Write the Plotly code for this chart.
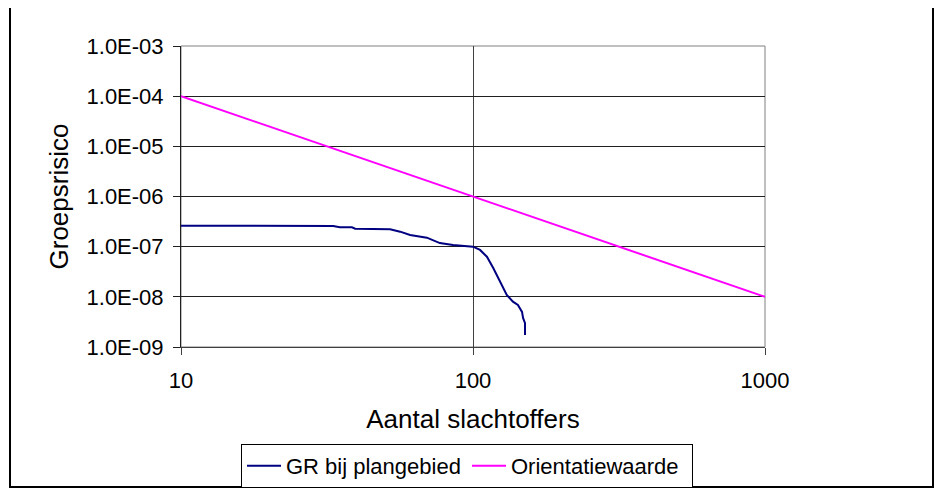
import plotly.graph_objects as go

# ---- data ----
gr_n = [10, 20, 33.2, 35.0, 38.5, 39.5, 43.4, 45.1, 52.0, 56.3, 60.9, 69.5, 77.0, 85.4,
        95.3, 100, 105.7, 111.6, 117.3, 123.5, 130.5, 137.0, 142.5, 147.2, 148.4, 150.7, 150.7]
gr_v = [2.62e-7, 2.60e-7, 2.58e-7, 2.43e-7, 2.43e-7, 2.28e-7, 2.28e-7, 2.23e-7, 2.23e-7,
        1.99e-7, 1.71e-7, 1.51e-7, 1.18e-7, 1.08e-7, 1.04e-7, 1.0e-7, 8.6e-8, 6.3e-8,
        3.76e-8, 2.0e-8, 1.09e-8, 8.0e-9, 6.9e-9, 5.0e-9, 3.8e-9, 3.0e-9, 1.74e-9]
ow_n = [10, 100, 1000]
ow_v = [1e-4, 1e-6, 1e-8]

x_ticks = [10, 100, 1000]
x_ticktext = ["10", "100", "1000"]
y_ticks = [1e-9, 1e-8, 1e-7, 1e-6, 1e-5, 1e-4, 1e-3]
y_ticktext = ["1.0E-09", "1.0E-08", "1.0E-07", "1.0E-06", "1.0E-05", "1.0E-04", "1.0E-03"]

OFF = 8  # browser body margin
W, H = 943 - OFF, 488 - OFF
PL, PR, PT, PB = 181 - OFF, 765 - OFF, 46 - OFF, 347 - OFF  # plot area (figure px)
FONT = "Liberation Sans, Arial, sans-serif"
FS = 22

def px(x):
    return (x - OFF - PL) / (PR - PL)

def py(y):
    return (PB - (y - OFF)) / (PB - PT)

fig = go.Figure()
fig.add_trace(go.Scatter(x=gr_n, y=gr_v, mode="lines", name="GR bij plangebied",
                         line=dict(color="#000080", width=2)))
fig.add_trace(go.Scatter(x=ow_n, y=ow_v, mode="lines", name="Orientatiewaarde",
                         line=dict(color="#FF00FF", width=2)))

fig.update_layout(
    width=W, height=H,
    margin=dict(l=PL, r=W - PR, t=PT, b=H - PB),
    paper_bgcolor="white", plot_bgcolor="white",
    font=dict(family=FONT, size=FS, color="black"),
    showlegend=True,
    legend=dict(orientation="h", xref="container", yref="container",
                x=(241 - OFF) / W, y=1 - (466 - OFF) / H, xanchor="left", yanchor="middle",
                bordercolor="black", borderwidth=1, bgcolor="white",
                font=dict(size=FS), itemwidth=34, entrywidth=176, tracegroupgap=0),
    xaxis=dict(type="log", range=[1, 3], tickvals=x_ticks, ticktext=x_ticktext,
               showgrid=True, gridcolor="#404040", gridwidth=1,
               showline=True, linecolor="#404040", linewidth=1,
               ticks="outside", ticklen=7, tickcolor="#404040", ticklabelstandoff=7,
               title=dict(text="Aantal slachtoffers", standoff=17), zeroline=False),
    yaxis=dict(type="log", range=[-9, -3], tickvals=y_ticks, ticktext=y_ticktext,
               showgrid=True, gridcolor="#202020", gridwidth=1,
               showline=True, linecolor="#202020", linewidth=1,
               ticks="outside", ticklen=7, tickcolor="#202020", ticklabelstandoff=5,
               title=dict(text="Groepsrisico", standoff=10), zeroline=False),
    shapes=[
        dict(type="rect", xref="paper", yref="paper", x0=0, x1=1, y0=0, y1=1,
             line=dict(color="#808080", width=1), layer="below"),
        dict(type="rect", xref="paper", yref="paper",
             x0=px(10), x1=px(933), y0=py(487), y1=py(7),
             line=dict(color="black", width=2)),
    ],
)

fig.write_html("out.html")
